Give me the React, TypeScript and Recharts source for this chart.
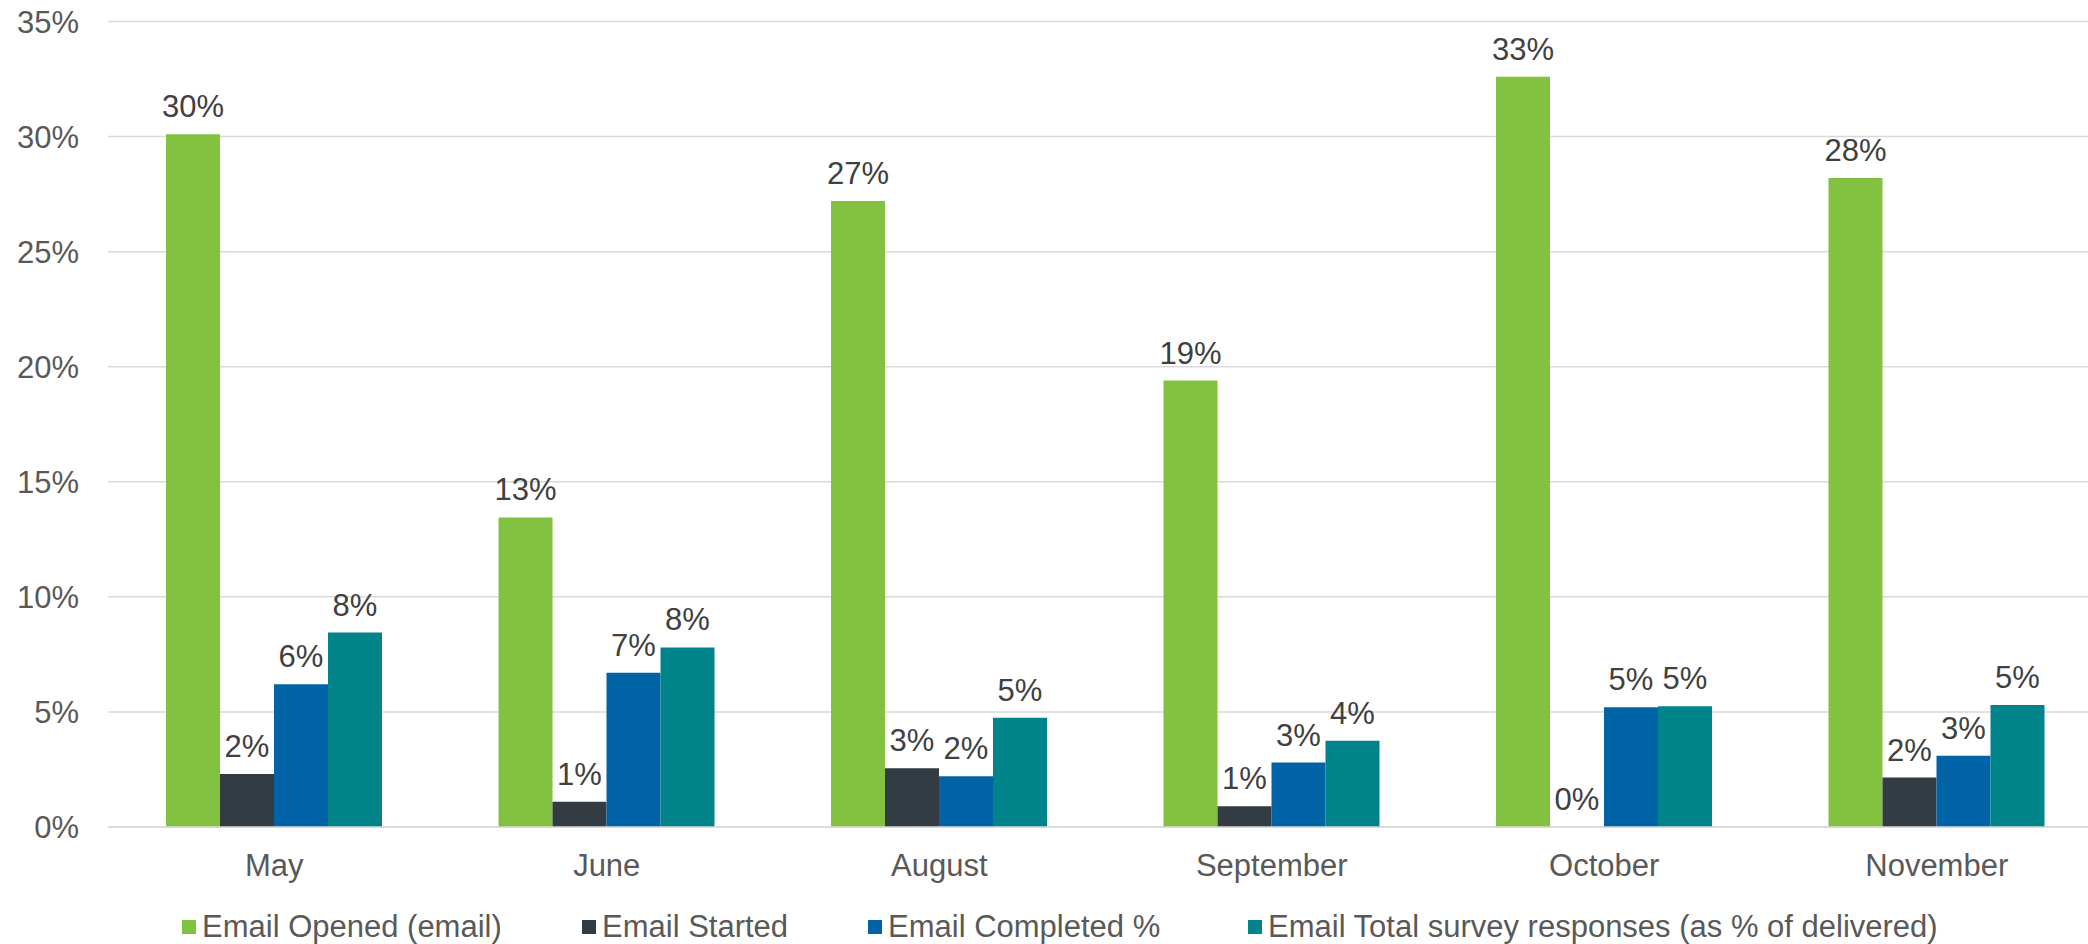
import { Bar, BarChart, CartesianGrid, LabelList, Legend, XAxis, YAxis } from "recharts";

const months = ["May", "June", "August", "September", "October", "November"];
const opened = [30.1, 13.45, 27.2, 19.4, 32.6, 28.2];
const started = [2.3, 1.1, 2.55, 0.9, 0, 2.15];
const completed = [6.2, 6.7, 2.2, 2.8, 5.2, 3.1];
const totalResponses = [8.45, 7.8, 4.75, 3.75, 5.25, 5.3];
const yTicks = [0, 5, 10, 15, 20, 25, 30, 35];

const series = [
  { key: "opened", name: "Email Opened (email)", color: "#83c241", values: opened },
  { key: "started", name: "Email Started", color: "#323c42", values: started },
  { key: "completed", name: "Email Completed %", color: "#0063a6", values: completed },
  { key: "total", name: "Email Total survey responses (as % of delivered)", color: "#008489", values: totalResponses },
];

const data = months.map((month, i) => {
  const row: Record<string, string | number> = { month };
  series.forEach((s) => (row[s.key] = s.values[i]));
  return row;
});

const FONT = '"Liberation Sans", Arial, sans-serif';
const legendWidths = [400, 286, 380, 800];

function LegendBox() {
  return (
    <div style={{ display: "flex", alignItems: "center", height: 34, paddingLeft: 182, fontFamily: FONT, fontSize: 31, color: "#595959" }}>
      {series.map((s, i) => (
        <div key={s.key} style={{ display: "flex", alignItems: "center", width: legendWidths[i], whiteSpace: "nowrap" }}>
          <span style={{ width: 14, height: 14, background: s.color, marginRight: 6, display: "inline-block" }} />
          <span>{s.name}</span>
        </div>
      ))}
    </div>
  );
}

export default function App() {
  return (
    <div style={{ position: "fixed", left: 0, top: 0, width: 2088, height: 944, overflow: "hidden", background: "#fff" }}>
      <BarChart width={2103} height={944} data={data} margin={{ top: 21.5, right: 0, bottom: 0, left: 0 }} barGap={0}>
        <CartesianGrid vertical={false} stroke="#d9d9d9" strokeWidth={1.5} />
        <XAxis
          dataKey="month"
          height={83}
          tickLine={false}
          axisLine={{ stroke: "#d9d9d9", strokeWidth: 1.5 }}
          tickMargin={21}
          tick={{ fontSize: 31, fill: "#595959", fontFamily: FONT }}
        />
        <YAxis
          width={108}
          domain={[0, 35]}
          ticks={yTicks}
          tickFormatter={(v: number) => `${v}%`}
          axisLine={false}
          tickLine={false}
          tickMargin={23}
          tick={{ fontSize: 31, fill: "#595959", fontFamily: FONT }}
        />
        <Legend verticalAlign="bottom" content={() => <LegendBox />} />
        {series.map((s) => (
          <Bar
            key={s.key}
            dataKey={s.key}
            name={s.name}
            fill={s.color}
            barSize={54}
            minPointSize={(v: number) => (v === 0 ? 0.01 : 0)}
            isAnimationActive={false}
          >
            <LabelList
              dataKey={s.key}
              position="top"
              offset={17}
              formatter={(v: number) => `${Math.round(v)}%`}
              style={{ fontSize: 31, fill: "#404040", fontFamily: FONT }}
            />
          </Bar>
        ))}
      </BarChart>
    </div>
  );
}
